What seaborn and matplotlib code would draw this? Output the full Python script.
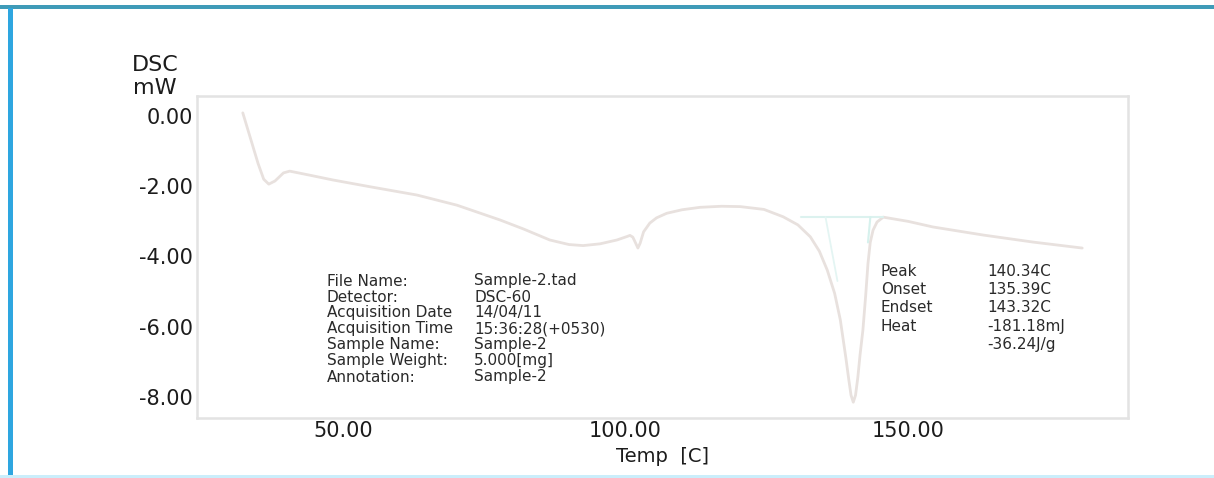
import numpy as np
import pandas as pd
import matplotlib
matplotlib.use("Agg")
import matplotlib.pyplot as plt
from matplotlib.patches import Rectangle
from matplotlib.ticker import MultipleLocator, FormatStrFormatter
import seaborn as sns

# DSC heating scan, Sample-2
temp_c = [32.3, 33.5, 35.0, 36.0, 36.9, 38.0, 39.5, 40.6, 44.0, 48.2, 55.0,
          63.1, 70.2, 77.8, 82.0, 86.6, 90.0, 92.5, 95.5, 98.5, 100.3, 100.8,
          101.3, 101.8, 102.2, 102.6, 103.2, 104.3, 105.5, 107.3, 110.0, 113.2,
          117.0, 120.3, 124.5, 127.9, 130.5, 132.7, 134.3, 135.7, 137.0, 138.0,
          139.0, 139.5, 139.9, 140.3, 140.7, 141.1, 141.5, 142.0, 142.5, 142.9,
          143.3, 143.8, 144.5, 145.6, 150.0, 154.4, 163.3, 172.1, 180.8]
dsc_mw = [0.09, -0.55, -1.35, -1.80, -1.94, -1.85, -1.62, -1.57, -1.68, -1.82,
          -2.02, -2.25, -2.54, -2.96, -3.22, -3.53, -3.66, -3.69, -3.64, -3.53,
          -3.43, -3.40, -3.45, -3.62, -3.76, -3.62, -3.30, -3.05, -2.90, -2.77,
          -2.67, -2.60, -2.57, -2.58, -2.66, -2.87, -3.10, -3.44, -3.85, -4.39,
          -5.05, -5.80, -6.90, -7.50, -7.95, -8.15, -7.95, -7.45, -6.80, -6.10,
          -5.10, -4.20, -3.60, -3.25, -3.02, -2.88, -3.00, -3.16, -3.39, -3.59,
          -3.76]

# peak analysis construction lines
baseline_t = [131.0, 145.6]
baseline_v = [-2.88, -2.88]
onset_t = [135.39, 137.5]
onset_v = [-2.88, -4.70]
endset_t = [143.32, 142.9]
endset_v = [-2.88, -3.60]

info_labels = ["File Name:", "Detector:", "Acquisition Date", "Acquisition Time",
               "Sample Name:", "Sample Weight:", "Annotation:"]
info_values = ["Sample-2.tad", "DSC-60", "14/04/11", "15:36:28(+0530)",
               "Sample-2", "5.000[mg]", "Sample-2"]
peak_labels = ["Peak", "Onset", "Endset", "Heat", ""]
peak_values = ["140.34C", "135.39C", "143.32C", "-181.18mJ", "-36.24J/g"]

sns.set_theme(style="white")
plt.rcParams["font.family"] = ["DejaVu Sans"]

W, H = 1214, 478
fig = plt.figure(figsize=(W / 100, H / 100), dpi=100)
fig.patch.set_facecolor("white")

# window frame
fig.add_artist(Rectangle((0, 1 - 9 / H), 1, 3.5 / H, transform=fig.transFigure,
                         facecolor="#3f9bb8", edgecolor="none"))
fig.add_artist(Rectangle((8 / W, 0), 5 / W, 1 - 8 / H, transform=fig.transFigure,
                         facecolor="#2ea6e0", edgecolor="none"))
fig.add_artist(Rectangle((0, 0), 1, 3.5 / H, transform=fig.transFigure,
                         facecolor="#cbeefb", edgecolor="none"))

ax = fig.add_axes([197 / W, 1 - 418 / H, (1128 - 197) / W, (418 - 96) / H])

df = pd.DataFrame({"Temp": temp_c, "DSC": dsc_mw})
sns.lineplot(data=df, x="Temp", y="DSC", ax=ax, color="#e8e1de", linewidth=2.0,
             sort=False)
ax.plot(baseline_t, baseline_v, color="#dcf2ef", linewidth=1.5)
ax.plot(onset_t, onset_v, color="#e4f5f3", linewidth=1.3)
ax.plot(endset_t, endset_v, color="#d6f1ed", linewidth=1.5)

ax.set_xlim(24.2, 188.9)
ax.set_ylim(-8.6, 0.57)

ax.xaxis.set_major_locator(MultipleLocator(50))
ax.xaxis.set_minor_locator(MultipleLocator(10))
ax.yaxis.set_major_locator(MultipleLocator(2))
ax.yaxis.set_minor_locator(MultipleLocator(0.5))
ax.xaxis.set_major_formatter(FormatStrFormatter("%.2f"))
ax.yaxis.set_major_formatter(FormatStrFormatter("%.2f"))

ax.tick_params(axis="both", which="both", direction="in", color="#e2e2e2",
               labelcolor="#1c1c1c", labelsize=15)
ax.tick_params(axis="both", which="major", length=5, width=1.2)
ax.tick_params(axis="both", which="minor", length=3, width=1.0)
ax.tick_params(axis="y", which="major", pad=3)
ax.tick_params(axis="x", which="major", pad=2)

for sp in ax.spines.values():
    sp.set_visible(True)
    sp.set_color("#e3e3e3")
    sp.set_linewidth(1.8)

ax.set_xlabel("")
ax.set_ylabel("")

fig.text(155 / W, 1 - 65 / H, "DSC", ha="center", va="center", fontsize=16,
         color="#1c1c1c")
fig.text(155 / W, 1 - 88 / H, "mW", ha="center", va="center", fontsize=16,
         color="#1c1c1c")
fig.text(662 / W, 1 - 456 / H, "Temp  [C]", ha="center", va="center",
         fontsize=14, color="#1c1c1c")

# acquisition details block
for i, (lab, val) in enumerate(zip(info_labels, info_values)):
    y = 1 - (281 + i * 16) / H
    fig.text(327 / W, y, lab, ha="left", va="center", fontsize=11,
             color="#2a2a2a")
    fig.text(474 / W, y, val, ha="left", va="center", fontsize=11,
             color="#2a2a2a")

# peak analysis results
for i, (lab, val) in enumerate(zip(peak_labels, peak_values)):
    y = 1 - (271 + i * 18.5) / H
    if lab:
        fig.text(881 / W, y, lab, ha="left", va="center", fontsize=11,
                 color="#2a2a2a")
    fig.text(987 / W, y, val, ha="left", va="center", fontsize=11,
             color="#2a2a2a")

fig.savefig("out.png", dpi=100)
